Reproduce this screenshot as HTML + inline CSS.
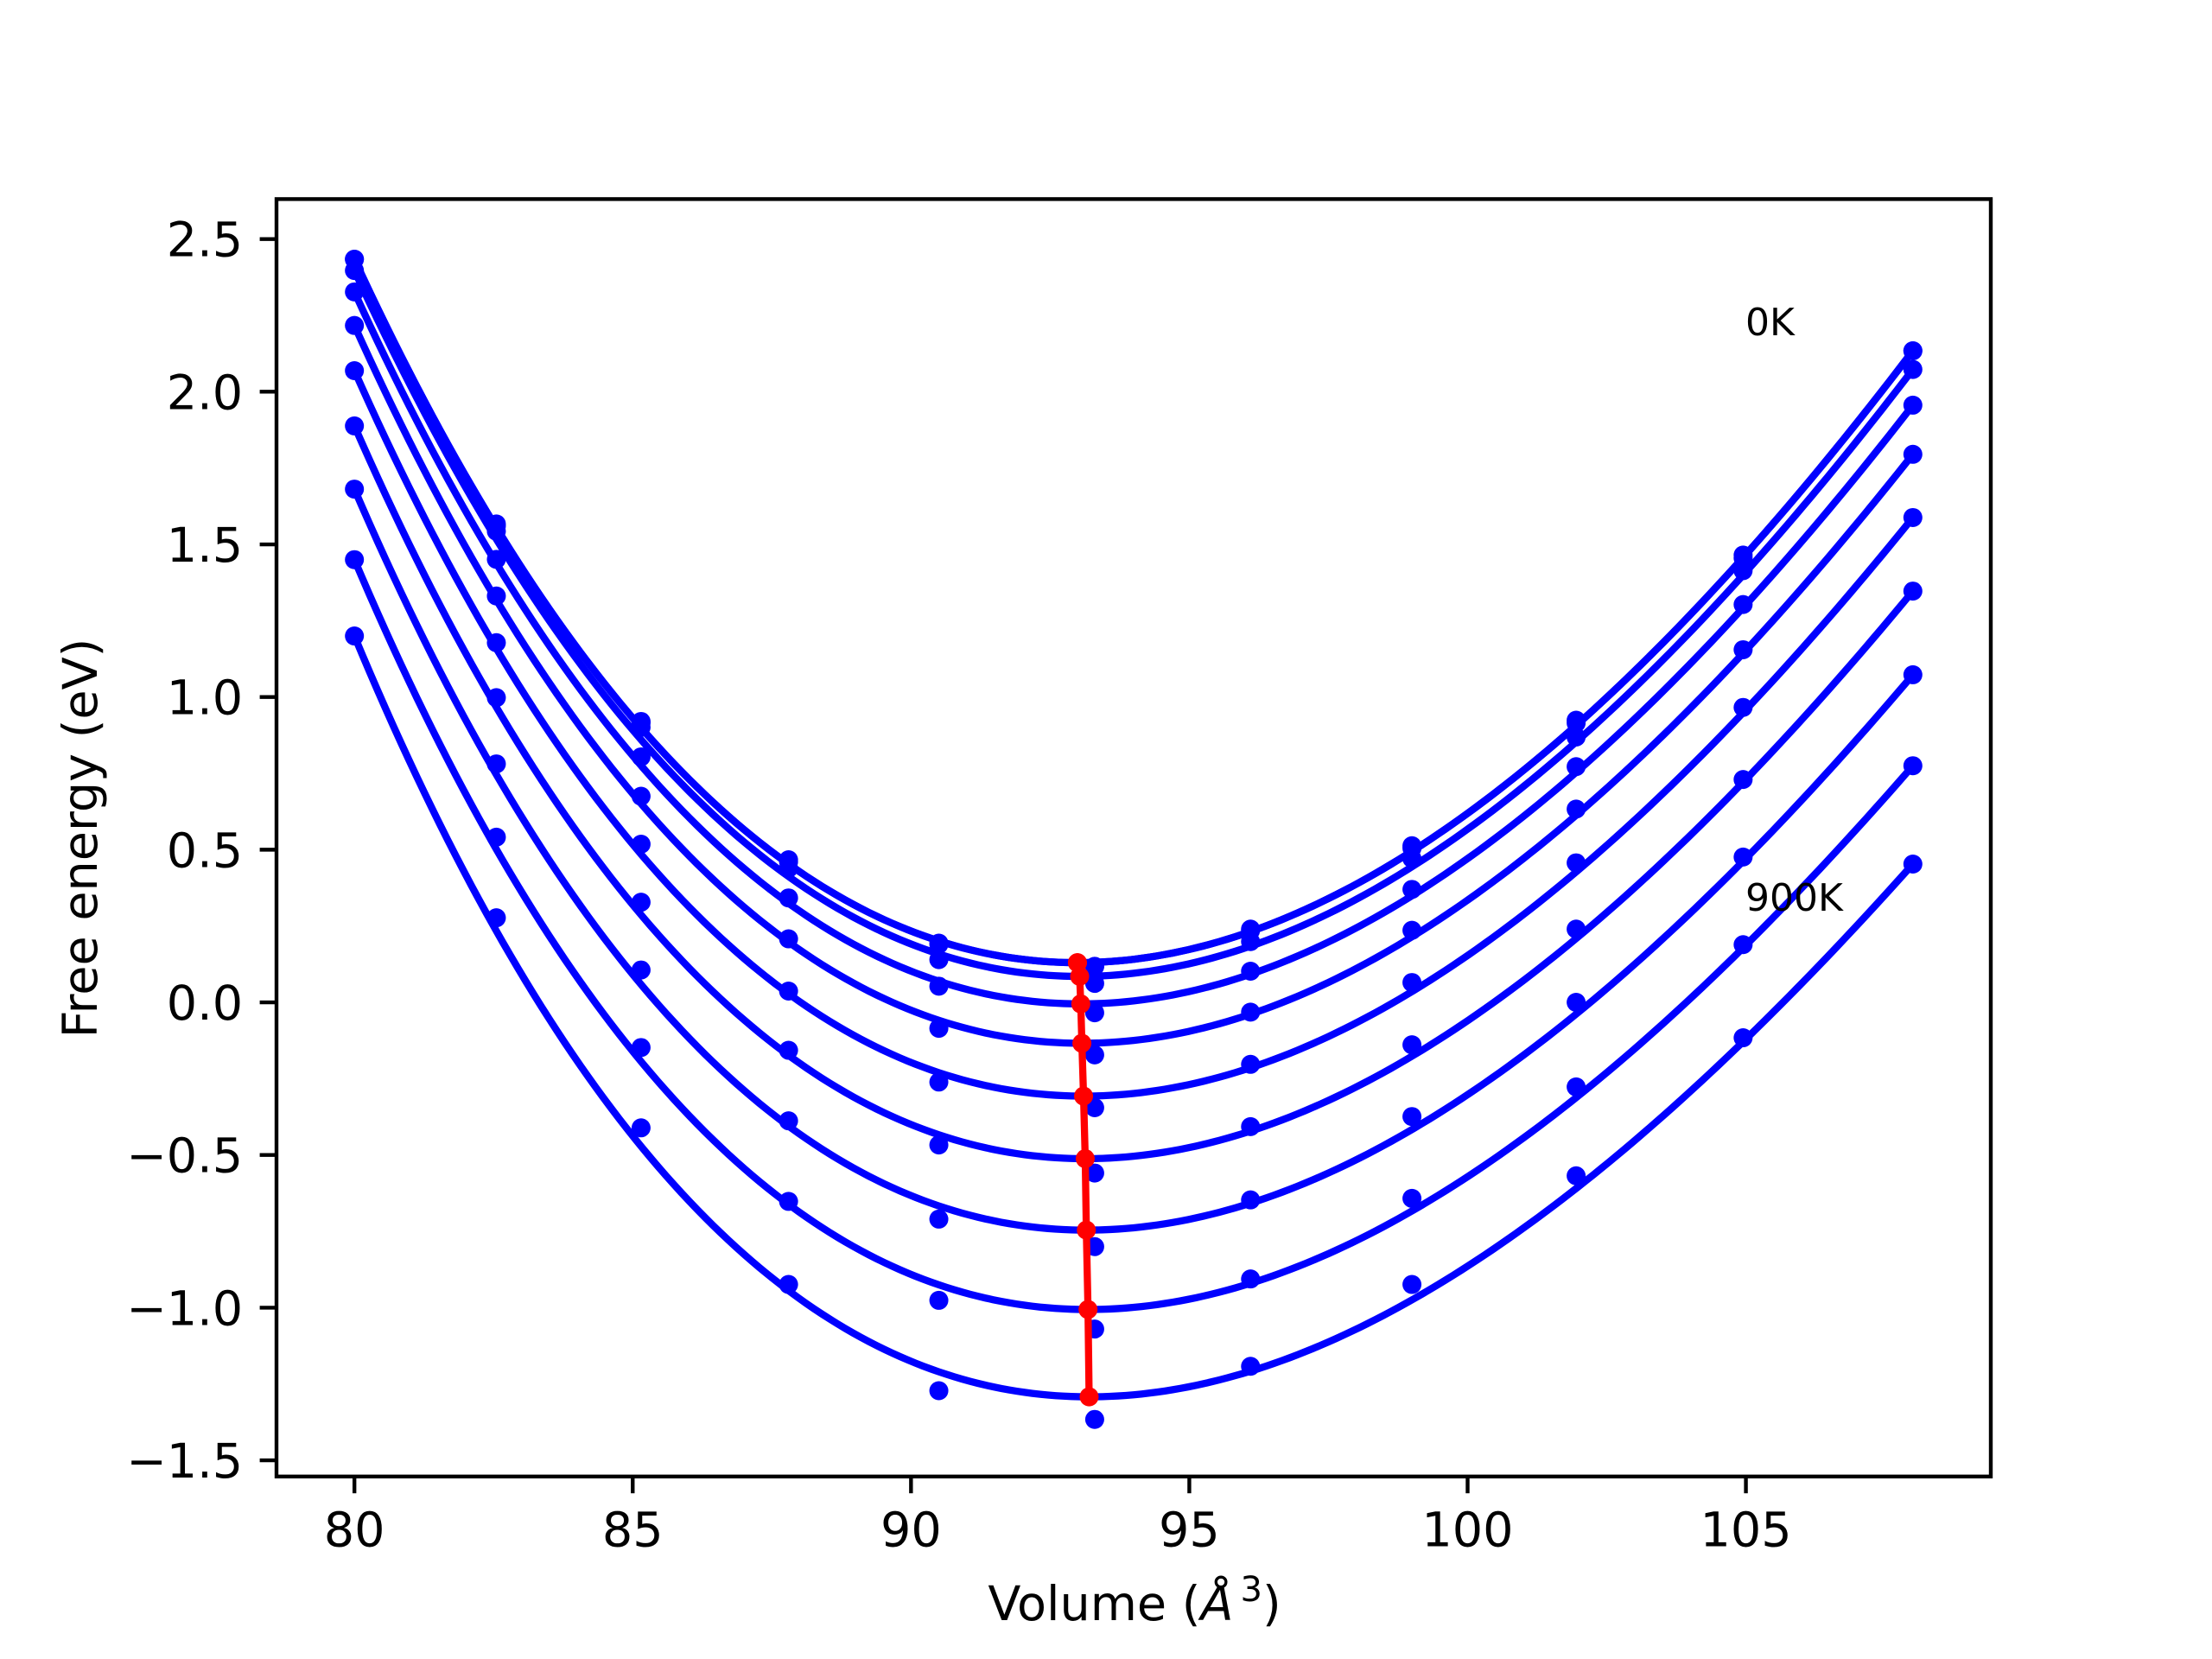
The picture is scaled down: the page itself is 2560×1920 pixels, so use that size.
<!DOCTYPE html>
<html><head><meta charset="utf-8"><title>Free energy vs volume</title>
<style>
html,body{margin:0;padding:0;background:#fff;}
svg{display:block;}
text{font-family:"DejaVu Sans","Liberation Sans",sans-serif;fill:#000;}
</style></head>
<body>
<svg id="chart" width="2560" height="1920" viewBox="0 0 2560 1920" xmlns="http://www.w3.org/2000/svg">
<rect x="0" y="0" width="2560" height="1920" fill="#fff"/>
<g id="marks"></g>
<g id="axes"></g>
<text x="1313" y="1875" font-size="55.6" text-anchor="middle">Volume (<tspan font-style="italic">Å</tspan><tspan font-size="40" dx="8" dy="-22">3</tspan><tspan dy="22">)</tspan></text>
<text transform="translate(112,970) rotate(-90)" font-size="55.6" text-anchor="middle">Free energy (eV)</text>
<text x="2020" y="388" font-size="44">0K</text>
<text x="2020" y="1054" font-size="44">900K</text>
</svg>
<script>
const volumes = [80, 82.55, 85.15, 87.8, 90.5, 93.3, 96.1, 99.0, 101.95, 104.95, 108.0];
const temps = [0, 100, 200, 300, 400, 500, 600, 700, 800, 900];
// energies per temperature (rows) at each volume (columns)
const energies = [
  [2.434, 1.567, 0.920, 0.467, 0.194, 0.118, 0.240, 0.513, 0.924, 1.465, 2.134],
  [2.434, 1.560, 0.915, 0.460, 0.190, 0.118, 0.235, 0.505, 0.915, 1.455, 2.134],
  [2.397, 1.543, 0.901, 0.439, 0.140, 0.062, 0.199, 0.471, 0.869, 1.414, 2.073],
  [2.327, 1.451, 0.804, 0.342, 0.053, -0.034, 0.102, 0.370, 0.772, 1.303, 1.956],
  [2.217, 1.331, 0.675, 0.208, -0.085, -0.172, -0.032, 0.236, 0.633, 1.155, 1.795],
  [2.069, 1.178, 0.518, 0.037, -0.261, -0.345, -0.203, 0.065, 0.457, 0.966, 1.588],
  [1.888, 0.998, 0.328, -0.157, -0.467, -0.559, -0.407, -0.139, 0.240, 0.730, 1.347],
  [1.681, 0.781, 0.106, -0.388, -0.710, -0.800, -0.647, -0.374, 0.000, 0.476, 1.073],
  [1.450, 0.541, -0.148, -0.652, -0.976, -1.070, -0.906, -0.642, -0.277, 0.189, 0.775],
  [1.200, 0.277, -0.411, -0.924, -1.272, -1.366, -1.192, -0.924, -0.568, -0.116, 0.453]
];
const minVolume = [92.99, 92.99, 93.03, 93.05, 93.07, 93.10, 93.13, 93.15, 93.18, 93.20];
const minEnergy = [0.130, 0.130, 0.085, -0.005, -0.134, -0.307, -0.512, -0.746, -1.006, -1.292];
const xTicks = [80, 85, 90, 95, 100, 105];
const yTicks = [-1.5, -1.0, -0.5, 0.0, 0.5, 1.0, 1.5, 2.0, 2.5];
const yTickLabels = ["\u22121.5", "\u22121.0", "\u22120.5", "0.0", "0.5", "1.0", "1.5", "2.0", "2.5"];

const PL = 320, PR = 2304, PT = 230.4, PB = 1708.8;
const XMIN = 78.6, XMAX = 109.4, YMIN = -1.553, YMAX = 2.631;
function sx(v){ return PL + (v - XMIN) / (XMAX - XMIN) * (PR - PL); }
function sy(e){ return PB - (e - YMIN) / (YMAX - YMIN) * (PB - PT); }
const NS = "http://www.w3.org/2000/svg";
function mk(tag, attrs, parent){
  const el = document.createElementNS(NS, tag);
  for (const k in attrs) el.setAttribute(k, attrs[k]);
  parent.appendChild(el);
  return el;
}
const marks = document.getElementById('marks');
const axes = document.getElementById('axes');

function bmTerms(V, V0){
  const x = Math.pow(V0 / V, 2/3);
  const eta = x - 1;
  return [eta*eta*eta, eta*eta*(6 - 4*x)];
}
// fitted Birch–Murnaghan curves
for (let i = 0; i < temps.length; i++){
  const V0 = minVolume[i], E0 = minEnergy[i];
  const row = energies[i];
  const dL = row[0] - E0, dR = row[row.length-1] - E0;
  const [a1, b1] = bmTerms(volumes[0], V0);
  const [a2, b2] = bmTerms(volumes[volumes.length-1], V0);
  const r = dL / dR;
  const Bp = (r*b2 - b1) / (a1 - r*a2);
  const K = dL / (a1*Bp + b1);
  let d = '';
  const N = 200;
  for (let k = 0; k <= N; k++){
    const V = volumes[0] + (volumes[volumes.length-1] - volumes[0]) * k / N;
    const [a, b] = bmTerms(V, V0);
    const E = E0 + K * (a*Bp + b);
    d += (k ? 'L' : 'M') + sx(V).toFixed(2) + ' ' + sy(E).toFixed(2);
  }
  const p = mk('path', {d: d, fill: 'none', stroke: '#0000ff', 'stroke-width': 8.3}, marks);
  
  
}
// scatter points
for (let i = 0; i < temps.length; i++){
  for (let j = 0; j < volumes.length; j++){
    const c = mk('circle', {cx: sx(volumes[j]), cy: sy(energies[i][j]), r: 11, fill: '#0000ff'}, marks);
    
    
  }
}
// minima line
let md = '';
for (let i = 0; i < temps.length; i++) md += (i ? 'L' : 'M') + sx(minVolume[i]) + ' ' + sy(minEnergy[i]);
const ml = mk('path', {d: md, fill: 'none', stroke: '#ff0000', 'stroke-width': 8.3}, marks);


for (let i = 0; i < temps.length; i++){
  const c = mk('circle', {cx: sx(minVolume[i]), cy: sy(minEnergy[i]), r: 11, fill: '#ff0000'}, marks);
  
  
}
// frame
const fr = mk('rect', {x: PL, y: PT, width: PR-PL, height: PB-PT, fill: 'none', stroke: '#000', 'stroke-width': 4.4}, axes);


// x ticks
for (let i = 0; i < xTicks.length; i++){
  const x = sx(xTicks[i]);
  const t = mk('line', {x1: x, x2: x, y1: PB, y2: PB + 19.4, stroke: '#000', 'stroke-width': 4.4}, axes);
  
  
  const lb = mk('text', {x: x, y: PB + 19.4 + 19.4 + 42, 'font-size': 55.6, 'text-anchor': 'middle'}, axes);
  lb.textContent = String(xTicks[i]);
  
  
}
// y ticks
for (let i = 0; i < yTicks.length; i++){
  const y = sy(yTicks[i]);
  const t = mk('line', {x1: PL - 19.4, x2: PL, y1: y, y2: y, stroke: '#000', 'stroke-width': 4.4}, axes);
  
  
  const lb = mk('text', {x: PL - 19.4 - 19.4, y: y + 20, 'font-size': 55.6, 'text-anchor': 'end'}, axes);
  lb.textContent = yTickLabels[i];
  
  
}
</script>
</body></html>
